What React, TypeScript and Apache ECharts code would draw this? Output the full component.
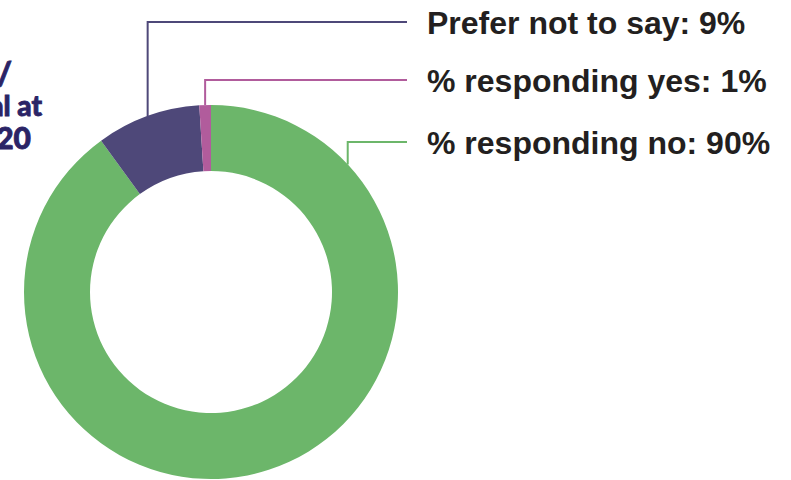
import React, { useEffect, useRef } from "react";
import * as echarts from "echarts";

const categories = ["% responding no", "Prefer not to say", "% responding yes"];
const values = [90, 9, 1];
const colors = ["#6cb66a", "#4e4879", "#b15c9c"];
const titleLines = ["Disability/", "total at", "2020"];

// layout
const CX = 211;
const CY = 292;
const R_IN = 121;
const R_OUT = 187;
const labelY = [142, 22, 80];
const anchorFraction = [0.145, 0.5, 0.5];
const LINE_END_X = 407;
const TEXT_X = 427;

export default function App() {
  const ref = useRef<HTMLDivElement>(null);
  useEffect(() => {
    if (!ref.current) return;
    const chart = echarts.init(ref.current, undefined, { renderer: "svg" });
    const total = values.reduce((a, b) => a + b, 0);
    let acc = 0;
    const graphics: any[] = [];
    values.forEach((v, i) => {
      const start = (acc / total) * 360;
      const span = (v / total) * 360;
      acc += v;
      const theta = ((start + span * anchorFraction[i]) * Math.PI) / 180;
      const px = CX + R_OUT * Math.sin(theta);
      const py = CY - R_OUT * Math.cos(theta);
      graphics.push({
        type: "polyline",
        silent: true,
        shape: {
          points: [
            [px, py],
            [px, labelY[i]],
            [LINE_END_X, labelY[i]],
          ],
        },
        style: { stroke: colors[i], lineWidth: 2, fill: null },
      });
      graphics.push({
        type: "text",
        x: TEXT_X,
        y: labelY[i] + 1,
        silent: true,
        style: {
          text: `${categories[i]}: ${v}%`,
          fill: "#231f20",
          font: "bold 32px 'Liberation Sans', Arial, sans-serif",
          textAlign: "left",
          textVerticalAlign: "middle",
        },
      });
    });
    const titleSpec = [
      { x: 12, y: 88, size: 33 },
      { x: 42, y: 119, size: 28 },
      { x: 31, y: 152, size: 30 },
    ];
    titleLines.forEach((t, i) => {
      graphics.push({
        type: "text",
        x: titleSpec[i].x,
        y: titleSpec[i].y,
        silent: true,
        style: {
          text: t,
          fill: "#2b2466",
          stroke: "#2b2466",
          lineWidth: 0.8,
          font: `900 ${titleSpec[i].size}px Lato, 'Open Sans', sans-serif`,
          textAlign: "right",
          textVerticalAlign: "bottom",
        },
      });
    });
    chart.setOption({
      animation: false,
      backgroundColor: "#ffffff",
      series: [
        {
          type: "pie",
          center: [CX, CY],
          radius: [R_IN, R_OUT],
          startAngle: 90,
          clockwise: true,
          silent: true,
          label: { show: false },
          labelLine: { show: false },
          emphasis: { disabled: true },
          itemStyle: { borderWidth: 0 },
          data: categories.map((c, i) => ({
            name: c,
            value: values[i],
            itemStyle: { color: colors[i] },
          })),
        },
      ],
      graphic: graphics,
    });
    return () => chart.dispose();
  }, []);
  return (
    <div
      ref={ref}
      style={{ position: "absolute", left: 0, top: 0, width: 791, height: 480 }}
    />
  );
}
